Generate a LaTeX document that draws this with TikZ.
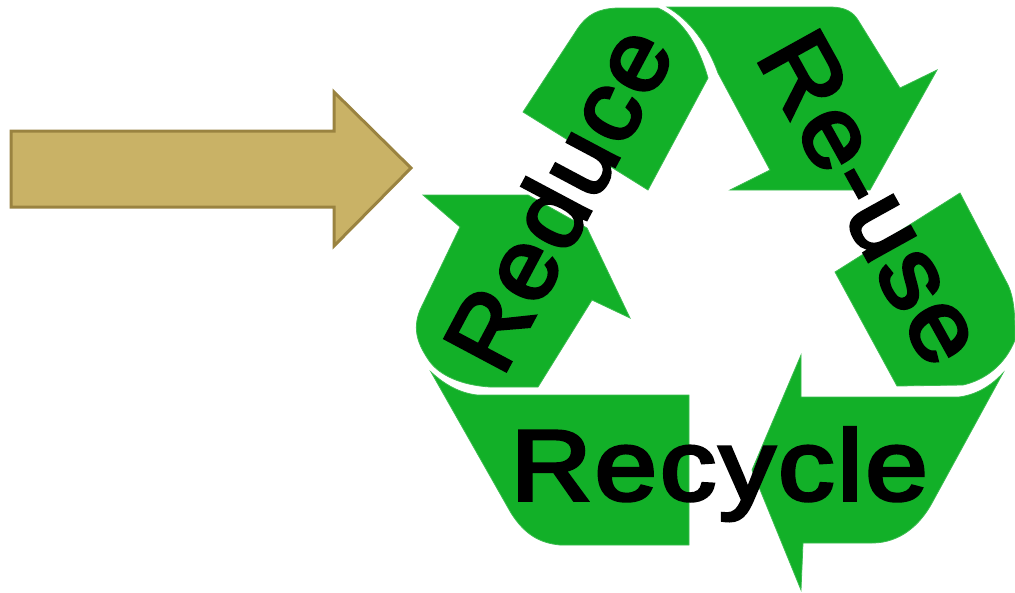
\documentclass[tikz,border=0pt]{standalone}
\usepackage{fontspec}
\setmainfont{Liberation Sans}
\newfontfamily\wordfont{Liberation Sans}[FakeBold=3.5,LetterSpace=3]
\tikzset{
  leaf/.style={fill=recgreen,draw=recedge,line width=0.8pt,line join=miter},
  word/.style={inner sep=0pt,outer sep=0pt,anchor=base west,text=black,font=\wordfont\fontsize{100}{100}\selectfont},
  goldarrow/.style={fill=arrowfill,draw=arrowedge,line width=3pt,line join=miter}
}
\definecolor{recgreen}{HTML}{12B028}
\definecolor{recedge}{HTML}{3CBC50}
\definecolor{arrowfill}{HTML}{C9B266}
\definecolor{arrowedge}{HTML}{9A8340}
\begin{document}
\begin{tikzpicture}[x=1pt,y=-1pt]
\useasboundingbox (0,0) rectangle (1015,592);
% gold arrow
\draw[goldarrow] (11,131) -- (334,131) -- (334,92) -- (411,168) -- (334,246) -- (334,207) -- (11,207) -- cycle;
% Reduce: head part
\draw[leaf] (523,112) -- (578,28) .. controls (588,14) and (598,9) .. (617,8) -- (658,8)
  .. controls (685,20) and (700,50) .. (708,78) -- (648,190) -- cycle;
% Reduce: arrow part
\draw[leaf] (423,195) -- (528,195) -- (587,228) -- (630,318) -- (592,300) -- (538,387) -- (490,387)
  .. controls (460,385) and (440,375) .. (430,362) .. controls (418,345) and (412,330) .. (420,310)
  -- (460,227) -- cycle;
% Re-use: arrow part
\draw[leaf] (667,7) -- (830,7) .. controls (845,7) and (853,12) .. (858,20) -- (900,88) -- (937,70)
  -- (870,190) -- (730,190) -- (770,170) -- (718,73) .. controls (708,45) and (690,20) .. cycle;
% Re-use: tail part
\draw[leaf] (960,193) -- (1008,285) .. controls (1015,300) and (1015,320) .. (1015,340)
  .. controls (1005,365) and (985,380) .. (963,385) -- (897,386) -- (835,272) -- cycle;
% Recycle: tail part
\draw[leaf] (431,372) .. controls (445,385) and (460,393) .. (477,395) -- (689,395) -- (689,545) -- (560,545)
  .. controls (540,543) and (525,535) .. (511,513) -- cycle;
% Recycle: arrow part
\draw[leaf] (801,355) -- (801,397) -- (959,397) .. controls (975,395) and (990,387) .. (1003,373)
  -- (932,503) .. controls (920,525) and (900,543) .. (872,543) -- (803,543) -- (801,590)
  -- (752,470) -- cycle;
% words
\node[word,rotate=62,xscale=1.03] (reduce) at (502,378) {Reduce};
\node[word,rotate=-61,xscale=1.07] (reuse) at (755,56) {Re-use};
\node[word,xscale=1.115] (recycle) at (511,500) {Recycle};
\end{tikzpicture}
\end{document}
